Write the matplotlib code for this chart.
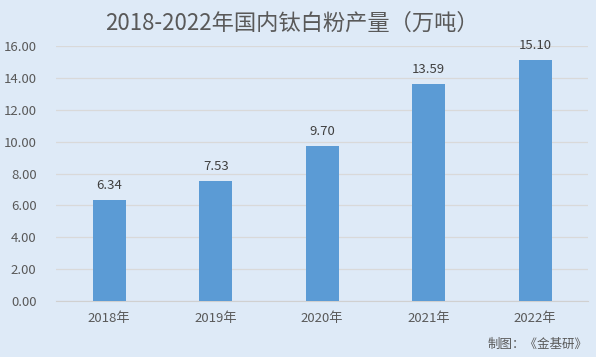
import matplotlib.pyplot as plt

plt.rcParams['font.family'] = ['Noto Sans CJK SC', 'DejaVu Sans']

years = ['2018年', '2019年', '2020年', '2021年', '2022年']
output = [6.34, 7.53, 9.70, 13.59, 15.10]
yticks = [0, 2, 4, 6, 8, 10, 12, 14, 16]

BG = '#DEEAF7'
BAR = '#5B9BD5'
TXT = '#595959'

fig = plt.figure(figsize=(5.96, 3.57), dpi=100, facecolor=BG)
ax = fig.add_axes([0.094, 0.157, 0.893, 0.714], facecolor=BG)

x = range(len(years))
bars = ax.bar(x, output, width=0.31, color=BAR, zorder=3)
for xi, v in zip(x, output):
    ax.text(xi, v + 0.5, f'{v:.2f}', ha='center', va='bottom', fontsize=9.5, color='#404040')

ax.set_xlim(-0.5, len(years) - 0.5)
ax.set_ylim(0, 16)
ax.set_yticks(yticks)
ax.set_yticklabels([f'{t:.2f}' for t in yticks])
ax.set_xticks(list(x))
ax.set_xticklabels(years)
ax.tick_params(length=0, colors=TXT, labelsize=9.5)
ax.tick_params(axis='y', pad=14)
ax.tick_params(axis='x', pad=8)
ax.grid(axis='y', color='#D9D9D9', linewidth=0.9, zorder=0)
for s in ['top', 'right', 'left']:
    ax.spines[s].set_visible(False)
ax.spines['bottom'].set_color('#D0D0D0')

fig.text(0.49, 0.935, '2018-2022年国内钛白粉产量（万吨）', ha='center', va='center',
         fontsize=16, color=TXT)
fig.text(0.985, 0.035, '制图：《金基研》', ha='right', va='center', fontsize=9, color=TXT)

plt.savefig('out.png', dpi=100, facecolor=BG)
